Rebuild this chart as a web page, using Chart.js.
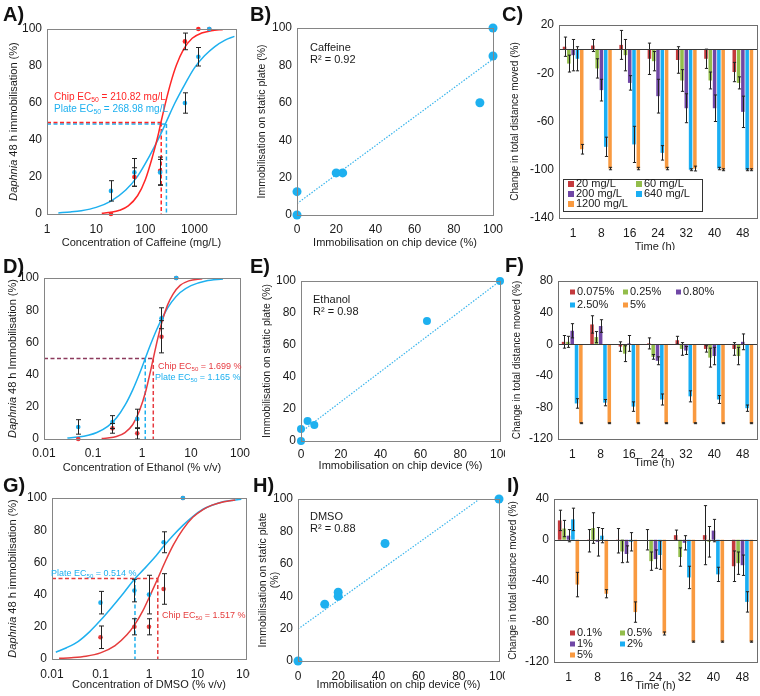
<!DOCTYPE html>
<html>
<head>
<meta charset="utf-8">
<title>Daphnia immobilisation and locomotion</title>
<script src="https://cdn.jsdelivr.net/npm/chart.js@4.4.1/dist/chart.umd.min.js"></script>
<style>
  body { margin: 0; background: #fff; }
  #page { position: relative; width: 760px; height: 696px; overflow: hidden; background: #fff; }
  #page canvas { position: absolute; }
  .tag { position: absolute; font: bold 20px "Liberation Sans", Arial, sans-serif; line-height: 20px; color: #111; }
</style>
</head>
<body>
<div id="page">
  <canvas id="cA"></canvas><canvas id="cB"></canvas><canvas id="cC"></canvas>
  <canvas id="cD"></canvas><canvas id="cE"></canvas><canvas id="cF"></canvas>
  <canvas id="cG"></canvas><canvas id="cH"></canvas><canvas id="cI"></canvas>
  <div class="tag" style="left:3px;top:4px">A)</div>
  <div class="tag" style="left:250px;top:4px">B)</div>
  <div class="tag" style="left:502px;top:4px">C)</div>
  <div class="tag" style="left:3px;top:256px">D)</div>
  <div class="tag" style="left:250px;top:256px">E)</div>
  <div class="tag" style="left:505px;top:255px">F)</div>
  <div class="tag" style="left:3px;top:475px">G)</div>
  <div class="tag" style="left:253px;top:475px">H)</div>
  <div class="tag" style="left:507px;top:475px">I)</div>
</div>
<script>
/* ---- data ---- */
const TIME = ['1', '8', '16', '24', '32', '40', '48'];

// A) caffeine dose-response
const A_CONC = [20, 60, 200, 640, 1200, 2000];
const A_CHIP = [0, 20, 23.3, 93.3, 100, 100];
const A_CHIP_ERR = [0, 5, 7.5, 4.5, 0, 0];
const A_PLATE = [12.5, 22.5, 22.5, 60, 85, 100];
const A_PLATE_ERR = [5.5, 7.5, 7, 5.5, 5, 0];
const A_CHIP_FIT_X = [13, 20, 30, 45, 70, 100, 140, 180, 210, 260, 330, 430, 600, 900, 1400, 2200, 3800];
const A_CHIP_FIT_Y = [0.4, 0.9, 2, 4.4, 10, 18.5, 31, 42, 50, 60.5, 71, 80.5, 89, 95, 97.8, 99.1, 99.7];
const A_PLATE_FIT_X = [1.7, 3, 5, 10, 20, 40, 70, 120, 200, 269, 400, 650, 1000, 1600, 2600, 4200, 6500];
const A_PLATE_FIT_Y = [0.6, 1.1, 1.8, 3.6, 7, 13, 20.5, 31, 42.5, 50, 60, 70.5, 79, 85.5, 90.5, 94, 96];
const A_EC50 = [210.82, 268.98];
const A_XTICKS = [1, 10, 100, 1000];

// B) caffeine, chip vs plate
const B_CHIP = [0, 0, 20, 23.3, 93.3, 100, 100];
const B_PLATE = [0, 12.5, 22.5, 22.5, 60, 85, 100];
const B_TREND_X = [0, 100];
const B_TREND_Y = [6.1, 83.4];

// C) caffeine, change in distance moved
const C_SERIES = ['20 mg/L', '60 mg/L', '200 mg/L', '640 mg/L', '1200 mg/L'];
const C_20 = [2, 3, 3.5, -8, -9, -8, -19];
const C_60 = [-12, -16, -5, -10, -26, -26, -28];
const C_200 = [-5, -34, -28, -39, -49, -49, -52];
const C_640 = [-8, -81, -79, -86, -100, -99, -100];
const C_1200 = [-83, -99, -99, -99, -99, -100, -100];
const C_20_ERR = [8, 5, 12, 13, 11, 8, 8];
const C_60_ERR = [7, 8, 13, 8, 9, 7, 5];
const C_200_ERR = [13, 9, 6, 14, 12, 11, 13];
const C_640_ERR = [10, 8, 15, 6, 0.8, 1, 0.8];
const C_1200_ERR = [4, 1, 1, 1, 2, 0.8, 0.8];

// D) ethanol dose-response
const D_CONC = [0.05, 0.25, 0.8, 2.5, 5];
const D_CHIP = [0, 6.6, 3.5, 63.5, 100];
const D_CHIP_ERR = [0, 3, 3.5, 10, 0];
const D_PLATE = [7.5, 10.5, 12.5, 75, 100];
const D_PLATE_ERR = [4.5, 4, 6, 6.5, 0];
const D_CHIP_FIT_X = [0.15, 0.2, 0.3, 0.45, 0.65, 0.9, 1.2, 1.5, 1.7, 2.1, 2.6, 3.3, 4.3, 6, 9, 17];
const D_CHIP_FIT_Y = [0.3, 0.6, 1.5, 4, 9, 18, 30, 42.5, 50, 62.5, 73.5, 83, 90, 95.4, 98.2, 99.6];
const D_PLATE_FIT_X = [0.03, 0.05, 0.08, 0.12, 0.2, 0.3, 0.45, 0.65, 0.9, 1.165, 1.5, 2, 2.8, 4, 6, 10, 20, 45];
const D_PLATE_FIT_Y = [0.6, 1.2, 2.3, 4, 7.8, 13, 21, 30.7, 41, 50, 58.8, 68, 77.3, 85, 91, 95.3, 98.2, 99.4];
const D_EC50 = [1.699, 1.165];
const LOG_TICKS = [0.01, 0.1, 1, 10, 100];

// E) ethanol, chip vs plate
const E_CHIP = [0, 0, 3.3, 6.7, 63.3, 100];
const E_PLATE = [0, 7.5, 12.5, 10, 75, 100];
const E_TREND_X = [0, 100];
const E_TREND_Y = [5.6, 100];

// F) ethanol, change in distance moved
const F_SERIES = ['0.075%', '0.25%', '0.80%', '2.50%', '5%'];
const F_0075 = [3, 25, -3, 1, 5, -6, -6];
const F_025 = [3, 9, -12, -16, -6, -17, -15];
const F_080 = [17, 23, 1, -21, -8, -15, 3];
const F_250 = [-75, -74, -79, -70, -66, -70, -81];
const F_5 = [-100, -100, -100, -100, -100, -100, -100];
const F_0075_ERR = [8, 11, 6, 7, 5, 4, 8];
const F_025_ERR = [7, 7, 10, 3, 8, 12, 11];
const F_080_ERR = [9, 8, 10, 5, 5, 11, 10];
const F_250_ERR = [6, 4, 6, 7, 7, 5, 4];
const F_5_ERR = [0.6, 0.6, 0.6, 0.6, 0.6, 0.6, 0.6];

// G) DMSO dose-response
const G_CONC = [0.1, 0.5, 1, 2, 5];
const G_CHIP = [13.5, 20, 20, 43.5, 100];
const G_CHIP_ERR = [7, 5, 5, 9.5, 0];
const G_PLATE = [35, 42.5, 40, 72.5, 100];
const G_PLATE_ERR = [7, 7, 12, 6.5, 0];
const G_CHIP_FIT_X = [0.014, 0.025, 0.05, 0.1, 0.2, 0.35, 0.5, 0.75, 1, 1.517, 2.2, 3.2, 5, 8, 13, 20, 35, 60];
const G_CHIP_FIT_Y = [0.4, 0.8, 1.7, 3.8, 8.3, 15, 21, 30, 38, 50, 61, 71, 80.5, 88, 92.8, 95.6, 97.7, 98.8];
const G_PLATE_FIT_X = [0.012, 0.02, 0.035, 0.06, 0.1, 0.17, 0.3, 0.514, 0.8, 1.3, 2, 3.2, 5, 8, 13, 20, 35, 80];
const G_PLATE_FIT_Y = [4.2, 7, 11, 17, 24, 32, 41, 50, 56, 63, 70, 77, 83, 88.5, 93, 95.5, 97.8, 99.2];
const G_EC50 = [1.517, 0.514];

// H) DMSO, chip vs plate
const H_CHIP = [0, 13.3, 20, 20, 43.3, 100];
const H_PLATE = [0, 35, 40, 42.5, 72.5, 100];
const H_TREND_X = [0, 90.4];
const H_TREND_Y = [19.7, 100];

// I) DMSO, change in distance moved
const I_SERIES = ['0.1%', '0.5%', '1%', '2%', '5%'];
const I_01 = [19, -1, -1, 0, 4.5, 4.5, -26];
const I_05 = [11, 11.5, -11.5, -21, -17, -2, -23];
const I_1 = [4, -2, -14, -19, -3, 9, -25];
const I_2 = [20, 4, -2, -15, -37, -34, -61];
const I_5 = [-44, -53, -71, -92, -100, -100, -100];
const I_01_ERR = [10, 11, 12, 10, 5, 29, 15];
const I_05_ERR = [8, 15, 11, 9, 9, 15, 11];
const I_1_ERR = [6, 14, 8, 9, 7, 11, 10];
const I_2_ERR = [11, 7, 9, 14, 11, 7, 10];
const I_5_ERR = [12, 4, 10, 1.5, 0.6, 0.6, 0.6];

/* ---- look ---- */
const FONT = '"Liberation Sans", Arial, Helvetica, sans-serif';
const INK = '#1a1a1a';
const BLUE = '#1eb0ef';
const BAR_COLORS = ['#c43a3d', '#93bd4b', '#7047a6', '#1aaef3', '#f99a40'];

Chart.defaults.font.family = FONT;
Chart.defaults.font.size = 12;
Chart.defaults.color = INK;
Chart.defaults.animation = false;
Chart.defaults.plugins.legend.display = false;
Chart.defaults.plugins.tooltip.enabled = false;

function drawParts(ctx, parts, x, y, size, color, align) {
  const segs = parts.map(p => (typeof p === 'string' ? { t: p } : { t: p.t, it: p.it, sub: p.sub }));
  const font = s => (s.it ? 'italic ' : '') + (s.sub ? size * 0.68 : size) + 'px ' + FONT;
  let w = 0;
  for (const s of segs) { ctx.font = font(s); s.w = ctx.measureText(s.t).width; w += s.w; }
  let cx = align === 'center' ? x - w / 2 : x;
  ctx.fillStyle = color;
  ctx.textAlign = 'left';
  ctx.textBaseline = 'middle';
  for (const s of segs) {
    ctx.font = font(s);
    ctx.fillText(s.t, cx, y + (s.sub ? size * 0.3 : 0));
    cx += s.w;
  }
}

// decoration settings per canvas (kept out of Chart.js option proxies)
const DECO = {};

// frame, error bars, titles, notes and legends
const deco = {
  id: 'deco',
  afterDatasetsDraw(chart) {
    const o = DECO[chart.canvas.id];
    if (!o) return;
    const { ctx } = chart;
    const ys = chart.scales.y;
    ctx.save();
    ctx.strokeStyle = '#222';
    ctx.lineWidth = 1;
    chart.data.datasets.forEach((ds, di) => {
      if (!ds.err) return;
      chart.getDatasetMeta(di).data.forEach((el, i) => {
        const e = ds.err[i];
        if (!e) return;
        const d = ds.data[i];
        const v = typeof d === 'number' ? d : d.y;
        const x = Math.round(el.x) + 0.5;
        const t = ys.getPixelForValue(v + e), b = ys.getPixelForValue(v - e);
        const c = o.cap || 2;
        ctx.beginPath();
        ctx.moveTo(x, t); ctx.lineTo(x, b);
        ctx.moveTo(x - c, t); ctx.lineTo(x + c, t);
        ctx.moveTo(x - c, b); ctx.lineTo(x + c, b);
        ctx.stroke();
      });
    });
    ctx.restore();
  },
  afterDraw(chart) {
    const o = DECO[chart.canvas.id];
    if (!o) return;
    const { ctx, chartArea: a } = chart;
    ctx.save();
    if (o.zero) {
      const y0 = Math.round(chart.scales.y.getPixelForValue(0)) + 0.5;
      ctx.strokeStyle = '#3a3a3a';
      ctx.lineWidth = 1;
      ctx.beginPath(); ctx.moveTo(a.left, y0); ctx.lineTo(a.right, y0); ctx.stroke();
    }
    ctx.strokeStyle = o.frame || '#858585';
    ctx.lineWidth = 1;
    ctx.strokeRect(Math.round(a.left) + 0.5, Math.round(a.top) + 0.5,
      Math.round(a.right - a.left), Math.round(a.bottom - a.top));

    if (o.ytitle) {
      for (const l of o.ytitle.lines) {
        ctx.save();
        ctx.translate(a.left + l.dx, (a.top + a.bottom) / 2);
        ctx.rotate(-Math.PI / 2);
        drawParts(ctx, l.parts, 0, 0, o.ytitle.size, INK, 'center');
        ctx.restore();
      }
    }
    if (o.xtitle) {
      drawParts(ctx, [o.xtitle.text], (a.left + a.right) / 2 + (o.xtitle.dx || 0),
        a.bottom + o.xtitle.dy, o.xtitle.size, INK, 'center');
    }
    for (const n of o.notes || []) {
      drawParts(ctx, n.parts, a.left + n.dx, a.top + n.dy, n.size, n.color, 'left');
    }
    if (o.legend) {
      const L = o.legend;
      if (L.box) {
        ctx.strokeStyle = '#333';
        ctx.strokeRect(Math.round(a.left + L.box[0]) + 0.5, Math.round(a.top + L.box[1]) + 0.5, L.box[2], L.box[3]);
      }
      chart.data.datasets.forEach((ds, i) => {
        const cx = a.left + L.x + (i % L.cols) * L.colW;
        const cy = a.top + L.y + Math.floor(i / L.cols) * L.rowH;
        ctx.fillStyle = ds.backgroundColor;
        ctx.fillRect(cx, cy - L.sq / 2, L.sq, L.sq);
        drawParts(ctx, [ds.label], cx + L.sq + 2, cy, L.size, INK, 'left');
      });
    }
    ctx.restore();
  }
};
Chart.register(deco);

/* ---- layout helpers ---- */
function frame(id, cell, plot) {
  const c = document.getElementById(id);
  const w = cell[2] - cell[0], h = cell[3] - cell[1];
  c.width = w; c.height = h;
  c.style.left = cell[0] + 'px'; c.style.top = cell[1] + 'px';
  c.style.width = w + 'px'; c.style.height = h + 'px';
  return {
    el: c,
    pad: { left: 0, top: plot[1] - cell[1], right: cell[2] - plot[2], bottom: 0 },
    yw: plot[0] - cell[0],
    xh: cell[3] - plot[3]
  };
}

function scaleX(f, pad, extra) {
  return Object.assign({}, extra, {
    grid: { display: false, drawTicks: false },
    border: { display: false },
    ticks: Object.assign({ padding: pad, autoSkip: false, maxRotation: 0, color: INK }, extra.ticks || {}),
    afterFit(s) { s.height = f.xh; s.paddingLeft = 0; s.paddingRight = 0; }
  });
}

function scaleY(f, extra) {
  return Object.assign({}, extra, {
    grid: { display: false, drawTicks: false },
    border: { display: false },
    ticks: Object.assign({ padding: 5, autoSkip: false, color: INK }, extra.ticks || {}),
    afterFit(s) { s.width = f.yw; s.paddingTop = 0; s.paddingBottom = 0; }
  });
}

const pts = (xs, ys) => xs.map((x, i) => ({ x: x, y: ys[i] }));

function logAxis(min, max, ticks) {
  return {
    type: 'logarithmic', min: min, max: max,
    afterBuildTicks(s) { s.ticks = ticks.map(v => ({ value: v })); },
    ticks: { callback: v => String(v) }
  };
}

function doseChart(id, cell, plot, d) {
  const f = frame(id, cell, plot);
  const dash = d.dashes.map(l => ({
    data: pts(l.x, l.y), showLine: true, borderColor: l.color, borderWidth: 1.5,
    borderDash: [4, 2.5], pointRadius: 0
  }));
  DECO[id] = {
    cap: 2.5,
    ytitle: { size: 11, lines: [{ dx: d.ydx, parts: [{ t: 'Daphnia', it: true }, d.ytext] }] },
    xtitle: { size: 11, dy: d.xdy, text: d.xtext },
    notes: d.notes
  };
  return new Chart(f.el, {
    type: 'scatter',
    data: {
      datasets: [
        { data: pts(d.conc, d.plate), err: d.plateErr, backgroundColor: BLUE, pointRadius: 2.3, borderWidth: 0, clip: false },
        { data: pts(d.conc, d.chip), err: d.chipErr, backgroundColor: d.red, pointRadius: 2.3, borderWidth: 0, clip: false },
        { data: pts(d.chipFitX, d.chipFitY), showLine: true, borderColor: d.red, borderWidth: 1.5,
          pointRadius: 0, cubicInterpolationMode: 'monotone' },
        { data: pts(d.plateFitX, d.plateFitY), showLine: true, borderColor: BLUE, borderWidth: 1.5,
          pointRadius: 0, cubicInterpolationMode: 'monotone' }
      ].concat(dash)
    },
    options: {
      responsive: false,
      layout: { padding: f.pad },
      scales: {
        x: scaleX(f, d.tickPad, logAxis(d.xmin, d.xmax, d.xticks)),
        y: scaleY(f, { min: 0, max: 100, ticks: { stepSize: 20 } })
      }
    }
  });
}

function compareChart(id, cell, plot, d) {
  const f = frame(id, cell, plot);
  DECO[id] = {
    ytitle: { size: 10.5, lines: d.ylines },
    xtitle: { size: 11, dy: d.xdy, text: 'Immobilisation on chip device (%)' },
    notes: [
      { dx: d.ndx, dy: d.ndy, parts: [d.name], color: INK, size: 11 },
      { dx: d.ndx, dy: d.ndy + 12, parts: [d.r2], color: INK, size: 11 }
    ]
  };
  return new Chart(f.el, {
    type: 'scatter',
    data: {
      datasets: [
        { data: pts(d.chip, d.plate), backgroundColor: BLUE, pointRadius: d.r, borderWidth: 0, clip: false },
        { data: pts(d.trendX, d.trendY), showLine: true, borderColor: '#3ab5ec', borderWidth: 1.2,
          borderDash: [1.5, 1.5], pointRadius: 0 }
      ]
    },
    options: {
      responsive: false,
      layout: { padding: f.pad },
      scales: {
        x: scaleX(f, d.tickPad, { type: 'linear', min: 0, max: 100, ticks: { stepSize: 20 } }),
        y: scaleY(f, { min: 0, max: 100, ticks: { stepSize: 20 } })
      }
    }
  });
}

function barChart(id, cell, plot, d) {
  const f = frame(id, cell, plot);
  DECO[id] = {
    cap: 1.6, zero: true, frame: '#6e6e6e',
    ytitle: { size: 10, lines: [{ dx: d.ydx, parts: ['Change in total distance moved (%)'] }] },
    xtitle: { size: 11, dy: d.xdy, dx: d.xdx, text: 'Time (h)' },
    legend: d.legend
  };
  return new Chart(f.el, {
    type: 'bar',
    data: {
      labels: TIME,
      datasets: d.series.map((name, i) => ({
        label: name, data: d.values[i], err: d.errs[i], backgroundColor: BAR_COLORS[i],
        categoryPercentage: 0.76, barPercentage: 0.82
      }))
    },
    options: {
      responsive: false,
      layout: { padding: f.pad },
      scales: {
        x: scaleX(f, d.tickPad, {}),
        y: scaleY(f, { min: d.ymin, max: d.ymax, ticks: { stepSize: 40 } })
      }
    }
  });
}

const sub50 = { t: '50', sub: true };

/* ---- panels ---- */
const A_RED = '#ff2626';
doseChart('cA', [0, 0, 250, 250], [47, 29, 236, 214], {
  conc: A_CONC, chip: A_CHIP, chipErr: A_CHIP_ERR, plate: A_PLATE, plateErr: A_PLATE_ERR,
  chipFitX: A_CHIP_FIT_X, chipFitY: A_CHIP_FIT_Y, plateFitX: A_PLATE_FIT_X, plateFitY: A_PLATE_FIT_Y,
  red: A_RED, xmin: 1, xmax: 7000, xticks: A_XTICKS, tickPad: 8,
  ydx: -33, ytext: ' 48 h immobilisation (%)', xdy: 29, xtext: 'Concentration of Caffeine (mg/L)',
  dashes: [
    { x: [1, A_EC50[0]], y: [49.4, 49.4], color: A_RED },
    { x: [A_EC50[0], A_EC50[1]], y: [48.6, 48.6], color: BLUE },
    { x: [1, A_EC50[0]], y: [48.6, 48.6], color: BLUE },
    { x: [A_EC50[0], A_EC50[0]], y: [49.4, 0], color: A_RED },
    { x: [A_EC50[1], A_EC50[1]], y: [48.6, 0], color: BLUE }
  ],
  notes: [
    { dx: 7, dy: 68, parts: ['Chip EC', sub50, ' = ' + A_EC50[0] + ' mg/L'], color: A_RED, size: 10 },
    { dx: 7, dy: 80, parts: ['Plate EC', sub50, ' = ' + A_EC50[1] + ' mg/L'], color: BLUE, size: 10 }
  ]
});

compareChart('cB', [250, 0, 505, 250], [297, 28, 493, 215], {
  chip: B_CHIP, plate: B_PLATE, trendX: B_TREND_X, trendY: B_TREND_Y, r: 4.5, tickPad: 7, xdy: 28,
  ylines: [{ dx: -35, parts: ['Immobilisation on static plate (%)'] }],
  name: 'Caffeine', r2: 'R² = 0.92', ndx: 13, ndy: 20
});

barChart('cC', [500, 0, 760, 250], [559, 25, 757, 218], {
  series: C_SERIES, values: [C_20, C_60, C_200, C_640, C_1200],
  errs: [C_20_ERR, C_60_ERR, C_200_ERR, C_640_ERR, C_1200_ERR],
  ymin: -140, ymax: 20, tickPad: 8, ydx: -44, xdy: 29, xdx: -3,
  legend: { x: 9, y: 159, cols: 2, colW: 68, rowH: 10, sq: 6, size: 11, box: [4, 154, 139, 32] }
});

const D_RED = '#e63a40';
doseChart('cD', [0, 250, 250, 475], [44, 278, 240, 439], {
  conc: D_CONC, chip: D_CHIP, chipErr: D_CHIP_ERR, plate: D_PLATE, plateErr: D_PLATE_ERR,
  chipFitX: D_CHIP_FIT_X, chipFitY: D_CHIP_FIT_Y, plateFitX: D_PLATE_FIT_X, plateFitY: D_PLATE_FIT_Y,
  red: D_RED, xmin: 0.01, xmax: 100, xticks: LOG_TICKS, tickPad: 7,
  ydx: -31, ytext: ' 48 h Immobilisation (%)', xdy: 29, xtext: 'Concentration of Ethanol (% v/v)',
  dashes: [
    { x: [0.01, D_EC50[0]], y: [50, 50], color: '#8c3a5c' },
    { x: [D_EC50[1], D_EC50[1]], y: [50, 0], color: BLUE },
    { x: [D_EC50[0], D_EC50[0]], y: [50, 0], color: D_RED }
  ],
  notes: [
    { dx: 114, dy: 89, parts: ['Chip EC', sub50, ' = ' + D_EC50[0] + ' %'], color: D_RED, size: 9 },
    { dx: 111, dy: 100, parts: ['Plate EC', sub50, ' = ' + D_EC50[1] + ' %'], color: BLUE, size: 9 }
  ]
});

compareChart('cE', [250, 250, 505, 475], [301, 281, 500, 441], {
  chip: E_CHIP, plate: E_PLATE, trendX: E_TREND_X, trendY: E_TREND_Y, r: 4, tickPad: 6, xdy: 25,
  ylines: [{ dx: -34, parts: ['Immobilisation on static plate (%)'] }],
  name: 'Ethanol', r2: 'R² = 0.98', ndx: 12, ndy: 19
});

barChart('cF', [500, 250, 760, 475], [558, 281, 757, 439], {
  series: F_SERIES, values: [F_0075, F_025, F_080, F_250, F_5],
  errs: [F_0075_ERR, F_025_ERR, F_080_ERR, F_250_ERR, F_5_ERR],
  ymin: -120, ymax: 80, tickPad: 8, ydx: -41, xdy: 24, xdx: -3,
  legend: { x: 12, y: 11, cols: 3, colW: 53, rowH: 13, sq: 5, size: 11 }
});

const G_RED = '#e53c3c';
doseChart('cG', [0, 475, 250, 696], [52, 498, 246, 659], {
  conc: G_CONC, chip: G_CHIP, chipErr: G_CHIP_ERR, plate: G_PLATE, plateErr: G_PLATE_ERR,
  chipFitX: G_CHIP_FIT_X, chipFitY: G_CHIP_FIT_Y, plateFitX: G_PLATE_FIT_X, plateFitY: G_PLATE_FIT_Y,
  red: G_RED, xmin: 0.01, xmax: 100, xticks: LOG_TICKS, tickPad: 8,
  ydx: -39, ytext: ' 48 h immobilisation (%)', xdy: 26, xtext: 'Concentration of DMSO (% v/v)',
  dashes: [
    { x: [0.01, G_EC50[0]], y: [50, 50], color: G_RED },
    { x: [G_EC50[1], G_EC50[1]], y: [50, 0], color: BLUE },
    { x: [G_EC50[0], G_EC50[0]], y: [50, 0], color: G_RED }
  ],
  notes: [
    { dx: -1, dy: 76, parts: ['Plate EC', sub50, ' = ' + G_EC50[1] + ' %'], color: BLUE, size: 9 },
    { dx: 110, dy: 118, parts: ['Chip EC', sub50, ' = ' + G_EC50[0] + ' %'], color: G_RED, size: 9 }
  ]
});

compareChart('cH', [250, 475, 505, 696], [298, 499, 499, 661], {
  chip: H_CHIP, plate: H_PLATE, trendX: H_TREND_X, trendY: H_TREND_Y, r: 4.5, tickPad: 8, xdy: 24,
  ylines: [{ dx: -35, parts: ['Immobilisation on static plate'] }, { dx: -23, parts: ['(%)'] }],
  name: 'DMSO', r2: 'R² = 0.88', ndx: 12, ndy: 18
});

barChart('cI', [500, 475, 760, 696], [554, 499, 757, 662], {
  series: I_SERIES, values: [I_01, I_05, I_1, I_2, I_5],
  errs: [I_01_ERR, I_05_ERR, I_1_ERR, I_2_ERR, I_5_ERR],
  ymin: -120, ymax: 40, tickPad: 8, ydx: -41, xdy: 24, xdx: 0,
  legend: { x: 16, y: 134, cols: 2, colW: 50, rowH: 11, sq: 5, size: 11 }
});
</script>
</body>
</html>
